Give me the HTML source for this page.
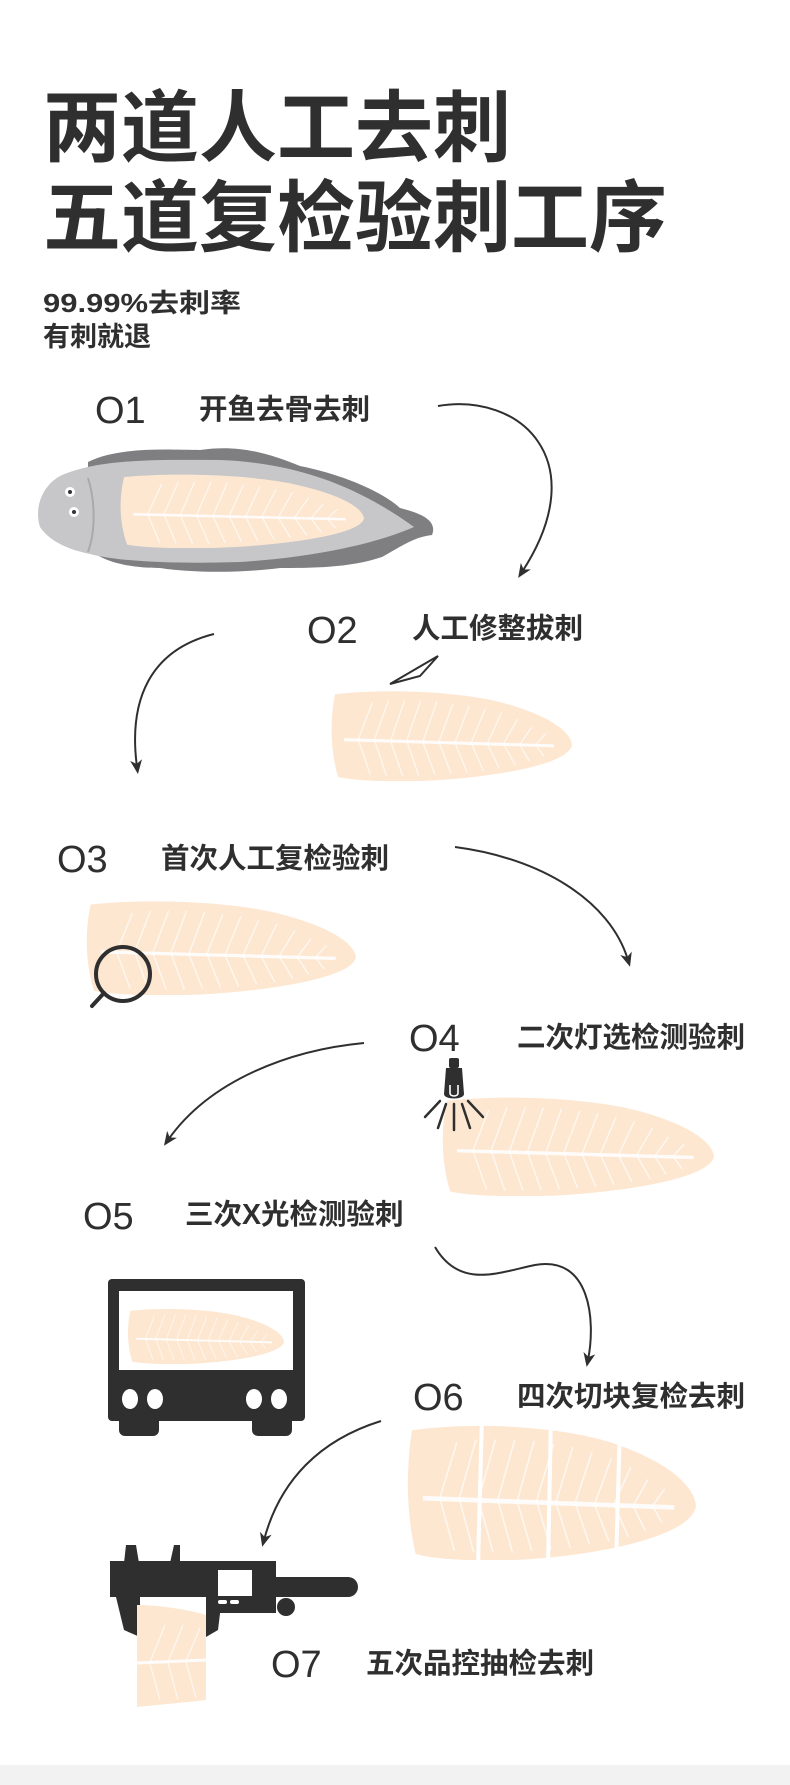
<!DOCTYPE html>
<html><head><meta charset="utf-8"><style>
html,body{margin:0;padding:0;background:#fff}
svg{display:block}
.t{font-family:"Liberation Sans","Noto Sans CJK SC",sans-serif;fill:#2f2f2f}
.n{font-family:"Liberation Sans","Noto Sans CJK SC",sans-serif;fill:#2f2f2f;font-weight:300}
</style></head><body>
<svg width="790" height="1785" viewBox="0 0 790 1785" xmlns="http://www.w3.org/2000/svg">
<defs>
<g id="fil">
<path d="M5,6 C60,0 130,4 170,14 C212,25 238,40 240,55 C236,76 150,88 90,90 C50,91 20,89 8,86 C0,60 0,30 5,6 Z" fill="#fde7d1"/>
<line x1="14" y1="50" x2="222" y2="56" stroke="#fff" stroke-width="3" opacity=".9"/>
<g stroke="#fff" stroke-width="1.2" opacity=".7">
<line x1="28" y1="50" x2="42" y2="14"/><line x1="44" y1="50" x2="58" y2="12"/><line x1="60" y1="51" x2="74" y2="12"/><line x1="76" y1="51" x2="90" y2="12"/><line x1="92" y1="52" x2="106" y2="13"/><line x1="108" y1="52" x2="122" y2="15"/><line x1="124" y1="53" x2="138" y2="17"/><line x1="140" y1="53" x2="154" y2="20"/><line x1="156" y1="54" x2="170" y2="24"/><line x1="172" y1="54" x2="186" y2="30"/><line x1="188" y1="55" x2="200" y2="38"/><line x1="204" y1="55" x2="214" y2="44"/>
<line x1="28" y1="50" x2="40" y2="84"/><line x1="44" y1="50" x2="56" y2="85"/><line x1="60" y1="51" x2="72" y2="85"/><line x1="76" y1="51" x2="88" y2="85"/><line x1="92" y1="52" x2="104" y2="84"/><line x1="108" y1="52" x2="120" y2="83"/><line x1="124" y1="53" x2="136" y2="82"/><line x1="140" y1="53" x2="152" y2="80"/><line x1="156" y1="54" x2="168" y2="78"/><line x1="172" y1="54" x2="184" y2="75"/><line x1="188" y1="55" x2="198" y2="71"/><line x1="204" y1="55" x2="212" y2="66"/>
</g>
</g>
<marker id="ah" markerWidth="14" markerHeight="14" refX="7" refY="7" orient="auto" markerUnits="userSpaceOnUse">
<path d="M0,1 L14,7 L0,13 L4,7 Z" fill="#2f2f2f"/>
</marker>
</defs>

<text class="t" x="43" y="155" font-size="78" font-weight="700">两道人工去刺</text>
<text class="t" x="43" y="245" font-size="78" font-weight="700">五道复检验刺工序</text>
<text class="t" x="43" y="312" font-size="26" font-weight="700" textLength="198" lengthAdjust="spacingAndGlyphs">99.99%去刺率</text>
<text class="t" x="43" y="346" font-size="27" font-weight="700">有刺就退</text>

<!-- 01 -->
<text class="n" x="95" y="423" font-size="38">O1</text>
<text class="t" x="199" y="419" font-size="28.5" font-weight="700">开鱼去骨去刺</text>
<path d="M88,462 C120,446 170,450 200,450 C240,444 270,454 300,466 C340,474 380,490 400,508 C420,513 438,520 432,535 C414,537 402,546 382,557 C350,568 310,568 280,568 C250,572 200,574 160,568 C130,568 100,562 88,547 Z" fill="#7f7f82"/>
<path d="M60,476 C100,458 160,460 220,460 C300,463 360,488 414,527 C380,542 320,557 240,562 C180,564 120,562 90,554 C70,550 50,542 40,527 C34,508 42,486 60,476 Z" fill="#c7c7c9"/>
<path d="M88,478 C95,500 96,530 88,552" fill="none" stroke="#a9a9ab" stroke-width="2"/>
<svg x="119" y="472" width="245" height="76" viewBox="0 0 240 90" preserveAspectRatio="none"><use href="#fil"/></svg>
<circle cx="70" cy="492" r="5" fill="#fff"/><circle cx="70" cy="492" r="2" fill="#333"/>
<circle cx="74" cy="512" r="5" fill="#fff"/><circle cx="74" cy="512" r="2" fill="#333"/>
<path d="M438,406 C520,392 595,460 522,572" fill="none" stroke="#2f2f2f" stroke-width="2" marker-end="url(#ah)"/>

<!-- 02 -->
<text class="n" x="307" y="643" font-size="38">O2</text>
<text class="t" x="412" y="638" font-size="28.5" font-weight="700">人工修整拔刺</text>
<path d="M390,684 L438,656 L420,676 Z" fill="none" stroke="#2f2f2f" stroke-width="2"/>
<svg x="330" y="688" width="242" height="93" viewBox="0 0 240 90" preserveAspectRatio="none"><use href="#fil"/></svg>
<path d="M214,634 C150,650 128,700 137,767" fill="none" stroke="#2f2f2f" stroke-width="2" marker-end="url(#ah)"/>

<!-- 03 -->
<text class="n" x="57" y="872" font-size="38">O3</text>
<text class="t" x="161" y="868" font-size="28.5" font-weight="700">首次人工复检验刺</text>
<svg x="85" y="898" width="271" height="97" viewBox="0 0 240 90" preserveAspectRatio="none"><use href="#fil"/></svg>
<circle cx="123" cy="974" r="27" fill="none" stroke="#2f2f2f" stroke-width="4"/>
<line x1="104" y1="993" x2="92" y2="1006" stroke="#2f2f2f" stroke-width="4" stroke-linecap="round"/>
<path d="M455,847 C540,858 610,900 628,960" fill="none" stroke="#2f2f2f" stroke-width="2" marker-end="url(#ah)"/>

<!-- 04 -->
<text class="n" x="409" y="1051" font-size="38">O4</text>
<text class="t" x="517" y="1047" font-size="28.5" font-weight="700">二次灯选检测验刺</text>
<svg x="441" y="1094" width="273" height="102" viewBox="0 0 240 90" preserveAspectRatio="none"><use href="#fil"/></svg>
<rect x="449" y="1058" width="10" height="10" rx="2" fill="#2f2f2f"/>
<path d="M446,1068 L462,1068 L464,1094 C464,1100 444,1100 444,1094 Z" fill="#2f2f2f"/>
<path d="M450,1085 L450,1093 C450,1097 458,1097 458,1093 L458,1085" fill="none" stroke="#fff" stroke-width="1.6"/>
<g stroke="#2f2f2f" stroke-width="2.5" stroke-linecap="round">
<line x1="454" y1="1104" x2="454" y2="1130"/><line x1="446" y1="1104" x2="438" y2="1128"/><line x1="462" y1="1104" x2="470" y2="1128"/><line x1="440" y1="1101" x2="425" y2="1117"/><line x1="468" y1="1101" x2="483" y2="1117"/>
</g>
<path d="M364,1043 C290,1050 210,1080 168,1140" fill="none" stroke="#2f2f2f" stroke-width="2" marker-end="url(#ah)"/>

<!-- 05 -->
<text class="n" x="83" y="1229" font-size="38">O5</text>
<text class="t" x="185" y="1224" font-size="28.5" font-weight="700">三次X光检测验刺</text>
<rect x="108" y="1279" width="197" height="142" rx="4" fill="#2f2f2f"/>
<rect x="119" y="1291" width="174" height="79" fill="#fff"/>
<svg x="127" y="1307" width="157" height="57" viewBox="0 0 240 90" preserveAspectRatio="none"><use href="#fil"/></svg>
<rect x="119" y="1415" width="40" height="21" rx="6" fill="#2f2f2f"/>
<rect x="252" y="1415" width="40" height="21" rx="6" fill="#2f2f2f"/>
<ellipse cx="130" cy="1399" rx="8" ry="10" fill="#fff"/><ellipse cx="155" cy="1399" rx="8" ry="10" fill="#fff"/>
<ellipse cx="254" cy="1399" rx="8" ry="10" fill="#fff"/><ellipse cx="279" cy="1399" rx="8" ry="10" fill="#fff"/>
<path d="M435,1247 C460,1290 500,1272 535,1265 C590,1255 596,1320 588,1360" fill="none" stroke="#2f2f2f" stroke-width="2" marker-end="url(#ah)"/>

<!-- 06 -->
<text class="n" x="413" y="1410" font-size="38">O6</text>
<text class="t" x="517" y="1406" font-size="28.5" font-weight="700">四次切块复检去刺</text>
<svg x="406" y="1421" width="290" height="139" viewBox="0 0 240 90" preserveAspectRatio="none"><use href="#fil"/></svg>
<g stroke="#fff" stroke-width="4">
<line x1="482" y1="1418" x2="478" y2="1565"/><line x1="551" y1="1418" x2="548" y2="1565"/><line x1="620" y1="1425" x2="616" y2="1565"/>
</g>
<path d="M381,1421 C320,1440 280,1480 264,1540" fill="none" stroke="#2f2f2f" stroke-width="2" marker-end="url(#ah)"/>

<!-- 07 -->
<path d="M126,1545 L136,1545 L139,1563 L124,1563 Z" fill="#2f2f2f"/>
<path d="M174,1545 L180,1545 L180,1563 L170,1563 Z" fill="#2f2f2f"/>
<rect x="110" y="1561" width="96" height="36" fill="#2f2f2f"/>
<rect x="206" y="1561" width="70" height="52" fill="#2f2f2f"/>
<rect x="110" y="1580" width="170" height="17" fill="#2f2f2f"/>
<path d="M270,1577 L348,1577 A10,10 0 0 1 348,1597 L270,1597 Z" fill="#2f2f2f"/>
<path d="M116,1597 L140,1597 L140,1637 L124,1630 Z" fill="#2f2f2f"/>
<path d="M206,1597 L222,1597 L218,1630 L206,1637 Z" fill="#2f2f2f"/>
<circle cx="286" cy="1607" r="9" fill="#2f2f2f"/>
<rect x="218" y="1570" width="34" height="26" fill="#fff"/>
<rect x="218" y="1600" width="9" height="4" rx="2" fill="#fff"/><rect x="230" y="1600" width="9" height="4" rx="2" fill="#fff"/>
<path d="M137,1605 C160,1605 190,1610 206,1615 L206,1700 C180,1703 155,1705 137,1707 Z" fill="#fde7d1"/>
<line x1="137" y1="1663" x2="206" y2="1660" stroke="#fff" stroke-width="3" opacity=".9"/>
<g stroke="#fff" stroke-width="1.2" opacity=".7">
<line x1="150" y1="1662" x2="165" y2="1625"/><line x1="168" y1="1662" x2="183" y2="1625"/><line x1="186" y1="1661" x2="200" y2="1628"/>
<line x1="150" y1="1664" x2="160" y2="1700"/><line x1="168" y1="1663" x2="178" y2="1700"/><line x1="186" y1="1662" x2="196" y2="1698"/>
</g>
<text class="n" x="271" y="1677" font-size="38">O7</text>
<text class="t" x="366" y="1673" font-size="28.5" font-weight="700">五次品控抽检去刺</text>

<rect x="0" y="1765" width="790" height="20" fill="#f2f2f2"/>
</svg>
</body></html>
